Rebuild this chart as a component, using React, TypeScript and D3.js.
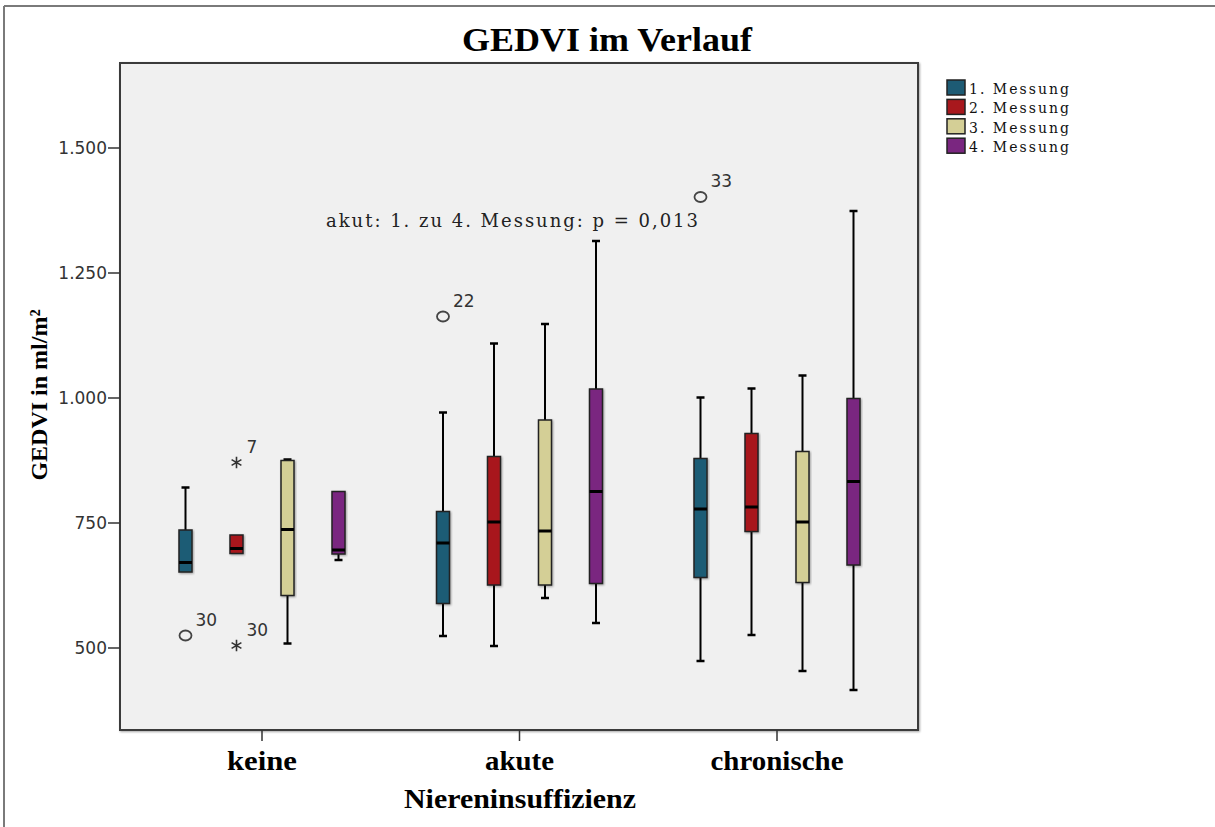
import React, { useEffect } from "react";
import * as d3 from "d3";

const categories = ["keine", "akute", "chronische"];
const seriesNames = ["1. Messung", "2. Messung", "3. Messung", "4. Messung"];
const seriesColors = ["#1d5b74", "#a8181d", "#d4cf96", "#7a2680"];

// per category, per series
const lowWhisker = [
  [652, 689, 509, 676],
  [524, 504, 600, 550],
  [474, 526, 454, 416],
];
const q1 = [
  [652, 689, 605, 688],
  [589, 626, 626, 629],
  [641, 733, 631, 666],
];
const median = [
  [671, 699, 737, 696],
  [710, 752, 734, 813],
  [778, 782, 752, 833],
];
const q3 = [
  [736, 726, 875, 813],
  [773, 883, 956, 1018],
  [879, 929, 893, 999],
];
const highWhisker = [
  [821, 726, 877, 813],
  [971, 1109, 1148, 1314],
  [1001, 1019, 1045, 1374],
];

const outlierCat = ["keine", "keine", "keine", "akute", "chronische"];
const outlierSeries = [0, 1, 1, 0, 0];
const outlierValue = [525, 871, 505, 1163, 1402];
const outlierLabel = ["30", "7", "30", "22", "33"];
const outlierKind = ["circle", "star", "star", "circle", "circle"];

const yTicks = [500, 750, 1000, 1250, 1500];
const yDomain = [336, 1670];

const title = "GEDVI im Verlauf";
const xTitle = "Niereninsuffizienz";
const yTitle = "GEDVI in ml/m²";
const annotation = "akut: 1. zu 4. Messung: p = 0,013";

const W = 1215;
const H = 827;
const plot = { left: 120, right: 918, top: 63, bottom: 730 };

const de = d3.formatLocale({
  decimal: ",",
  thousands: ".",
  grouping: [3],
  currency: ["", "€"],
});
const fmt = de.format(",d");

const catLabelWidth: Record<string, number> = { keine: 70, akute: 69, chronische: 133 };

export default function App() {
  useEffect(() => {
    document.body.style.margin = "0";
    document.body.style.overflow = "hidden";
  }, []);

  const y = d3.scaleLinear().domain(yDomain).range([plot.bottom, plot.top]);
  const x = d3.scalePoint<string>().domain(categories).range([262, 777]);
  const xs = d3.scaleBand<number>().domain([0, 1, 2, 3]).range([-102, 102]);
  const boxW = 13;
  const capW = 8;
  const cx = (ci: number, si: number) =>
    (x(categories[ci]) as number) + (xs(si) as number) + xs.bandwidth() / 2;

  const star = d3.symbol().type(d3.symbolAsterisk).size(90)();

  return (
    <svg
      width={W}
      height={H}
      style={{ position: "absolute", left: 0, top: 0, background: "#fff" }}
    >
      <defs>
        <filter id="sh" x="-20%" y="-20%" width="140%" height="140%">
          <feGaussianBlur in="SourceAlpha" stdDeviation="1" />
          <feOffset dx="1" dy="1" result="b" />
          <feComponentTransfer>
            <feFuncA type="linear" slope="0.35" />
          </feComponentTransfer>
          <feMerge>
            <feMergeNode />
            <feMergeNode in="SourceGraphic" />
          </feMerge>
        </filter>
      </defs>
      {/* outer frame */}
      <line x1={4} y1={6} x2={W} y2={6} stroke="#7a7a7a" strokeWidth={2} />
      <line x1={4} y1={6} x2={4} y2={H} stroke="#7a7a7a" strokeWidth={2} />

      {/* title */}
      <text
        x={462}
        y={51}
        fontFamily="Liberation Serif"
        fontWeight="bold"
        fontSize={33}
        textLength={290}
        lengthAdjust="spacingAndGlyphs"
        fill="#000"
      >
        {title}
      </text>

      {/* plot area */}
      <rect
        x={plot.left}
        y={plot.top}
        width={plot.right - plot.left}
        height={plot.bottom - plot.top}
        fill="#f0f0f0"
        stroke="#3a3a3a"
        strokeWidth={2}
        filter="url(#sh)"
      />

      {/* y axis */}
      {yTicks.map((t) => (
        <g key={t}>
          <line
            x1={plot.left - 12}
            x2={plot.left}
            y1={y(t)}
            y2={y(t)}
            stroke="#333"
            strokeWidth={1.5}
          />
          <text
            x={plot.left - 13}
            y={y(t)}
            dy="0.36em"
            textAnchor="end"
            fontFamily="DejaVu Sans"
            fontSize={17}
            fill="#333"
          >
            {fmt(t)}
          </text>
        </g>
      ))}
      <text
        transform={`translate(47, 395) rotate(-90)`}
        textAnchor="middle"
        fontFamily="Liberation Serif"
        fontWeight="bold"
        fontSize={24}
        fill="#000"
      >
        {yTitle}
      </text>

      {/* x axis */}
      {categories.map((c) => (
        <g key={c}>
          <line
            x1={x(c)}
            x2={x(c)}
            y1={plot.bottom}
            y2={plot.bottom + 11}
            stroke="#333"
            strokeWidth={1.5}
          />
          <text
            x={(x(c) as number) - catLabelWidth[c] / 2}
            y={770}
            fontFamily="Liberation Serif"
            fontWeight="bold"
            fontSize={27}
            textLength={catLabelWidth[c]}
            lengthAdjust="spacingAndGlyphs"
            fill="#000"
          >
            {c}
          </text>
        </g>
      ))}
      <text
        x={404}
        y={808}
        fontFamily="Liberation Serif"
        fontWeight="bold"
        fontSize={27}
        textLength={232}
        lengthAdjust="spacingAndGlyphs"
        fill="#000"
      >
        {xTitle}
      </text>

      {/* boxes */}
      {categories.map((c, ci) =>
        seriesNames.map((s, si) => {
          const px = cx(ci, si);
          const lo = lowWhisker[ci][si];
          const hi = highWhisker[ci][si];
          const a = q1[ci][si];
          const b = q3[ci][si];
          const m = median[ci][si];
          return (
            <g key={c + s}>
              {hi > b && (
                <>
                  <line x1={px} x2={px} y1={y(b)} y2={y(hi)} stroke="#000" strokeWidth={2} />
                  <line x1={px - capW / 2} x2={px + capW / 2} y1={y(hi)} y2={y(hi)} stroke="#000" strokeWidth={2.5} />
                </>
              )}
              {lo < a && (
                <>
                  <line x1={px} x2={px} y1={y(a)} y2={y(lo)} stroke="#000" strokeWidth={2} />
                  <line x1={px - capW / 2} x2={px + capW / 2} y1={y(lo)} y2={y(lo)} stroke="#000" strokeWidth={2.5} />
                </>
              )}
              <rect
                x={px - boxW / 2}
                y={y(b)}
                width={boxW}
                height={y(a) - y(b)}
                fill={seriesColors[si]}
                stroke="#222"
                strokeWidth={1.5}
                filter="url(#sh)"
              />
              <line
                x1={px - boxW / 2}
                x2={px + boxW / 2}
                y1={y(m)}
                y2={y(m)}
                stroke="#000"
                strokeWidth={3}
              />
            </g>
          );
        })
      )}

      {/* outliers */}
      {outlierValue.map((v, i) => {
        const ci = categories.indexOf(outlierCat[i]);
        const px = cx(ci, outlierSeries[i]);
        const py = y(v);
        return (
          <g key={i}>
            {outlierKind[i] === "circle" ? (
              <ellipse cx={px} cy={py} rx={6} ry={5} fill="none" stroke="#444" strokeWidth={1.8} />
            ) : (
              <path d={star as string} transform={`translate(${px},${py})`} fill="none" stroke="#333" strokeWidth={1.6} />
            )}
            <text
              x={px + 10}
              y={py - 10}
              fontFamily="DejaVu Sans"
              fontSize={17}
              fill="#333"
            >
              {outlierLabel[i]}
            </text>
          </g>
        );
      })}

      {/* annotation */}
      <text
        x={326}
        y={227}
        fontFamily="DejaVu Serif"
        fontSize={18}
        textLength={372}
        lengthAdjust="spacing"
        fill="#222"
      >
        {annotation}
      </text>

      {/* legend */}
      {seriesNames.map((s, i) => (
        <g key={s} transform={`translate(947, ${80 + i * 19.4})`}>
          <rect width={18} height={15} fill={seriesColors[i]} stroke="#222" strokeWidth={1.5} />
          <text
            x={22}
            y={14}
            fontFamily="DejaVu Serif"
            fontSize={14}
            textLength={100}
            lengthAdjust="spacing"
            fill="#111"
          >
            {s}
          </text>
        </g>
      ))}
    </svg>
  );
}
